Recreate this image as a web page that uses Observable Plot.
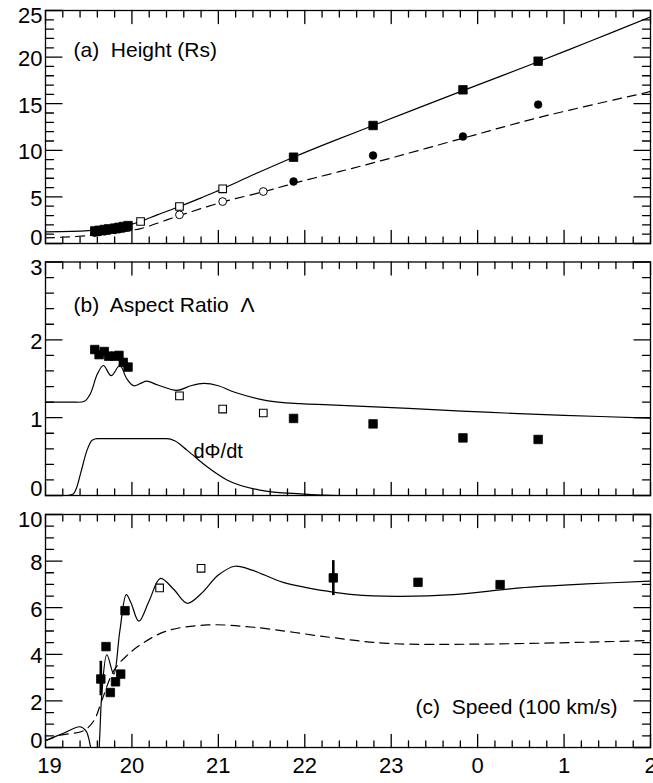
<!DOCTYPE html>
<html><head><meta charset="utf-8">
<script src="https://cdn.jsdelivr.net/npm/d3@7"></script>
<script src="https://cdn.jsdelivr.net/npm/@observablehq/plot@0.6"></script>
<style>
body{margin:0;background:#fff;}
#chart svg{display:block;}
</style></head><body><div id="chart"></div>
<script>
// ---------- shared x axis (hours, 24 = 0h next day) ----------
const xTicks = [19, 20, 21, 22, 23, 24, 25, 26];
const xTickLabels = ["19", "20", "21", "22", "23", "0", "1", "2"];

// ---------- panel (a) Height (Rs) ----------
const aYTicks = [0, 5, 10, 15, 20, 25];
const aSqTime = [19.57, 19.62, 19.68, 19.73, 19.80, 19.85, 19.90, 19.955, 20.10, 20.55, 21.05, 21.87, 22.79, 23.83, 24.70];
const aSqVal  = [1.35, 1.42, 1.50, 1.57, 1.65, 1.73, 1.82, 1.92, 2.36, 3.97, 5.87, 9.26, 12.66, 16.49, 19.56];
const aSqFill = [1, 1, 1, 1, 1, 1, 1, 1, 0, 0, 0, 1, 1, 1, 1];
const aCiTime = [19.57, 19.62, 19.68, 19.73, 19.80, 19.85, 19.90, 19.955, 20.55, 21.05, 21.52, 21.87, 22.79, 23.83, 24.70];
const aCiVal  = [1.15, 1.22, 1.30, 1.37, 1.45, 1.52, 1.60, 1.70, 3.08, 4.50, 5.58, 6.65, 9.44, 11.48, 14.91];
const aCiFill = [1, 1, 1, 1, 1, 1, 1, 1, 0, 0, 0, 1, 1, 1, 1];
const aSolidTime = [19, 19.3, 19.5, 19.6, 19.75, 19.95, 20.1, 20.3, 20.55, 20.8, 21.05, 21.41, 21.87, 22.29, 22.79, 23.3, 23.83, 24.7, 25.3, 26];
const aSolidVal  = [1.25, 1.3, 1.38, 1.45, 1.6, 1.95, 2.36, 3.1, 3.97, 4.9, 5.87, 7.4, 9.26, 10.85, 12.66, 14.5, 16.4, 19.5, 21.7, 24.3];
const aDashTime = [19, 19.5, 19.9, 20.1, 20.55, 21.05, 21.52, 21.87, 22.29, 22.79, 23.83, 24.7, 26];
const aDashVal  = [0.6, 0.85, 1.3, 1.6, 3.0, 4.45, 5.55, 6.45, 7.45, 8.65, 11.3, 13.5, 16.3];

// ---------- panel (b) Aspect ratio ----------
const bYTicks = [0, 1, 2, 3];
const bSqTime = [19.57, 19.62, 19.68, 19.73, 19.80, 19.85, 19.90, 19.955, 20.55, 21.05, 21.52, 21.87, 22.79, 23.83, 24.70];
const bSqVal  = [1.875, 1.81, 1.85, 1.79, 1.79, 1.80, 1.71, 1.65, 1.28, 1.11, 1.06, 0.99, 0.92, 0.74, 0.72];
const bSqFill = [1, 1, 1, 1, 1, 1, 1, 1, 0, 0, 0, 1, 1, 1, 1];
const bModelTime = [19, 19.3, 19.45, 19.52, 19.6, 19.67, 19.76, 19.86, 19.94, 20.02, 20.1, 20.17, 20.3, 20.52, 20.68, 20.83, 21.0, 21.18, 21.56, 21.95, 22.29, 23.2, 24.1, 25, 26];
const bModelVal  = [1.2, 1.2, 1.21, 1.31, 1.56, 1.67, 1.54, 1.67, 1.5, 1.41, 1.44, 1.47, 1.42, 1.35, 1.41, 1.44, 1.41, 1.33, 1.22, 1.18, 1.165, 1.12, 1.07, 1.03, 0.995];
const bFluxTime = [19, 19.25, 19.32, 19.36, 19.41, 19.48, 19.54, 19.6, 20.4, 20.5, 20.64, 20.87, 21.1, 21.48, 21.95, 22.4, 26];
const bFluxVal  = [0, 0, 0.02, 0.1, 0.3, 0.58, 0.71, 0.73, 0.73, 0.7, 0.58, 0.37, 0.2, 0.07, 0.02, 0, 0];

// ---------- panel (c) Speed (100 km/s) ----------
const cYTicks = [0, 2, 4, 6, 8, 10];
const cSqTime = [19.64, 19.70, 19.75, 19.81, 19.87, 19.92, 20.32, 20.80, 22.33, 23.31, 24.26];
const cSqVal  = [2.94, 4.33, 2.36, 2.82, 3.15, 5.87, 6.85, 7.69, 7.28, 7.09, 6.99];
const cSqFill = [1, 1, 1, 1, 1, 1, 0, 0, 1, 1, 1];
const cErrTime = [19.64, 22.33];
const cErrLow  = [2.22, 6.52];
const cErrHigh = [3.70, 8.02];
const cSolidTime = [19, 19.2, 19.4, 19.47, 19.52, 19.56, 19.6, 19.625, 19.65, 19.71, 19.79, 19.86, 19.935, 19.99, 20.08, 20.2, 20.33, 20.48, 20.64, 20.8, 21.0, 21.19, 21.4, 21.75, 22.29, 22.56, 23.06, 23.72, 24.49, 25.26, 26];
const cSolidVal  = [0.3, 0.6, 0.89, 0.7, 0.05, -0.8, -0.9, 0.3, 2.2, 3.98, 3.15, 5.0, 6.56, 6.2, 5.42, 6.3, 7.26, 6.8, 6.19, 6.6, 7.4, 7.78, 7.6, 7.09, 6.69, 6.56, 6.49, 6.56, 6.85, 7.02, 7.14];
const cDashTime = [19, 19.17, 19.44, 19.56, 19.65, 19.79, 19.94, 20.14, 20.41, 20.87, 21.41, 22.29, 22.95, 24.1, 26];
const cDashVal  = [0.29, 0.53, 0.72, 1.15, 2.0, 3.3, 3.94, 4.51, 5.01, 5.26, 5.16, 4.73, 4.47, 4.44, 4.59];

// ---------- helpers ----------
const zip = (ts, vs, fs) => ts.map((t, i) => ({t, v: vs[i], f: fs ? fs[i] : 1}));
const W = 653, ML = 45, MR = 3, FW = W - ML - MR;
const X0 = 19, X1 = 26;
const FONT = "'Liberation Sans', Arial, Helvetica, sans-serif";
const TICKFONT = 22;
const xMinor = d3.range(X0, X1 + 1e-4, 0.2).filter(t => Math.abs(t - Math.round(t)) > 1e-6);
const XLEN = [13, 6.5], YLEN = [16.5, 8];

function minors(maj, step) {
  const lo = maj[0], hi = maj[maj.length - 1];
  return d3.range(lo, hi + 1e-9, step).filter(v => !maj.some(M => Math.abs(M - v) < 1e-6));
}
// inward ticks on all four sides, as short path segments through the plot's scales
function tickPaths(yMaj, yMin, fh) {
  const y0 = yMaj[0], y1 = yMaj[yMaj.length - 1];
  const dyPer = (y1 - y0) / fh, dxPer = (X1 - X0) / FW;
  const segs = [];
  let id = 0;
  [[xTicks, XLEN[0]], [xMinor, XLEN[1]]].forEach(([vals, len]) => vals.forEach(v => {
    segs.push({id, t: v, v: y0}, {id, t: v, v: y0 + len * dyPer}); id++;
    segs.push({id, t: v, v: y1}, {id, t: v, v: y1 - len * dyPer}); id++;
  }));
  [[yMaj, YLEN[0]], [yMin, YLEN[1]]].forEach(([vals, len]) => vals.forEach(v => {
    segs.push({id, t: X0, v}, {id, t: X0 + len * dxPer, v}); id++;
    segs.push({id, t: X1, v}, {id, t: X1 - len * dxPer, v}); id++;
  }));
  return Plot.line(segs, {x: "t", y: "v", z: "id", stroke: "black", strokeWidth: 1.3, curve: "linear"});
}
function yLabels(ticks, dTop, dBottom) {
  const o = {tickSize: 0, tickPadding: 3, label: null, fontSize: TICKFONT, tickFormat: d => String(d)};
  return [
    Plot.axisY(ticks.slice(1, -1), {...o, dy: 2}),
    Plot.axisY([ticks[ticks.length - 1]], {...o, dy: dTop}),
    Plot.axisY([ticks[0]], {...o, dy: dBottom})
  ];
}
const lineS = {x: "t", y: "v", stroke: "black", strokeWidth: 1.2, curve: "catmull-rom", clip: true};
const dashS = {...lineS, strokeDasharray: "9,6"};
function squares(data, r = 4.8) {
  return [
    Plot.dot(data.filter(d => d.f), {x: "t", y: "v", symbol: "square", r, fill: "black", stroke: "black", strokeWidth: 0.8}),
    Plot.dot(data.filter(d => !d.f), {x: "t", y: "v", symbol: "square", r: r - 0.5, fill: "white", stroke: "black", strokeWidth: 1.1})
  ];
}
function circles(data, r = 3.9) {
  return [
    Plot.dot(data.filter(d => d.f), {x: "t", y: "v", r, fill: "black", stroke: "black", strokeWidth: 0.5}),
    Plot.dot(data.filter(d => !d.f), {x: "t", y: "v", r, fill: "white", stroke: "black", strokeWidth: 1})
  ];
}
const common = (h, mt, mb) => ({
  width: W, height: h, marginLeft: ML, marginRight: MR, marginTop: mt, marginBottom: mb,
  style: {fontFamily: FONT, fontSize: "20px", color: "black", background: "white", overflow: "visible"}
});
const lblS = {fontSize: 21, fontFamily: FONT, fill: "black", lineAnchor: "middle"};

// ---------- panel a ----------
const pa = Plot.plot({
  ...common(252, 10, 9),
  x: {domain: [X0, X1], axis: null},
  y: {domain: [0, 25], axis: null},
  marks: [
    Plot.line(zip(aSolidTime, aSolidVal), lineS),
    Plot.line(zip(aDashTime, aDashVal), dashS),
    ...squares(zip(aSqTime, aSqVal, aSqFill)),
    ...circles(zip(aCiTime, aCiVal, aCiFill)),
    tickPaths(aYTicks, minors(aYTicks, 1), 233),
    Plot.frame({stroke: "black", strokeWidth: 1.3}),
    ...yLabels(aYTicks, 5, -6),
    Plot.text(["(a)  Height (Rs)"], {frameAnchor: "top-left", textAnchor: "start", dx: 28, dy: 40, ...lblS})
  ]
});

// ---------- panel b ----------
const pb = Plot.plot({
  ...common(253, 9.5, 10),
  x: {domain: [X0, X1], axis: null},
  y: {domain: [0, 3], axis: null},
  marks: [
    Plot.line(zip(bModelTime, bModelVal), lineS),
    Plot.line(zip(bFluxTime, bFluxVal), {...lineS, curve: "monotone-x"}),
    ...squares(zip(bSqTime, bSqVal, bSqFill)),
    tickPaths(bYTicks, minors(bYTicks, 0.2), 233.5),
    Plot.frame({stroke: "black", strokeWidth: 1.3}),
    ...yLabels(bYTicks, 6, -7),
    Plot.text(["(b)  Aspect Ratio  \u039B"], {frameAnchor: "top-left", textAnchor: "start", dx: 28, dy: 43.5, ...lblS}),
    Plot.text(["d\u03A6/dt"], {frameAnchor: "top-left", textAnchor: "start", dx: 148, dy: 189.5, ...lblS, fontSize: 20})
  ]
});

// ---------- panel c ----------
const errData = cErrTime.map((t, i) => ({t, lo: cErrLow[i], hi: cErrHigh[i]}));
const xo = {tickSize: 0, tickPadding: 10, label: null, fontSize: TICKFONT, tickFormat: d => xTickLabels[xTicks.indexOf(d)]};
const pc = Plot.plot({
  ...common(278, 9, 36),
  x: {domain: [X0, X1]},
  y: {domain: [0, 10], axis: null},
  marks: [
    Plot.line(zip(cSolidTime, cSolidVal), lineS),
    Plot.line(zip(cDashTime, cDashVal), dashS),
    Plot.ruleX(errData, {x: "t", y1: "lo", y2: "hi", stroke: "black", strokeWidth: 2.6}),
    ...squares(zip(cSqTime, cSqVal, cSqFill)),
    tickPaths(cYTicks, minors(cYTicks, 0.5), 233),
    Plot.frame({stroke: "black", strokeWidth: 1.3}),
    ...yLabels(cYTicks, 5, -7),
    Plot.axisX([xTicks[0]], {...xo, dx: 4}),
    Plot.axisX(xTicks.slice(1), xo),
    Plot.text(["(c)  Speed (100 km/s)"], {frameAnchor: "bottom-right", textAnchor: "end", dx: -33, dy: -40, ...lblS})
  ]
});

document.getElementById("chart").append(pa, pb, pc);
</script></body></html>
